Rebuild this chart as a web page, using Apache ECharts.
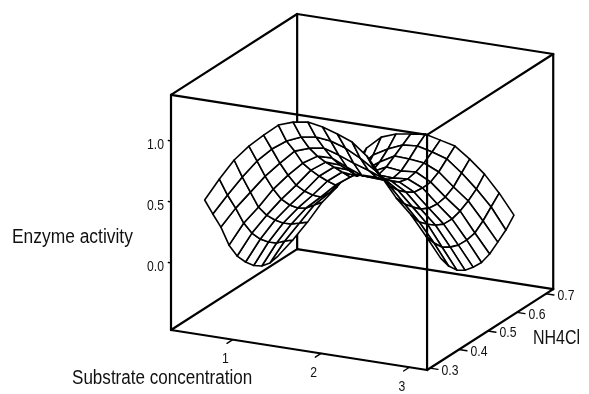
<!DOCTYPE html>
<html>
<head>
<meta charset="utf-8">
<style>
  html, body { margin: 0; padding: 0; background: #fff; }
  #chart { width: 589px; height: 394px; }
</style>
<script src="https://cdn.jsdelivr.net/npm/echarts@6/dist/echarts.min.js"></script>
</head>
<body>
<div id="chart"></div>
<script>
  // grid of the surface
  var substrate = [0.32, 0.487, 0.654, 0.821, 0.988, 1.155, 1.322, 1.489, 1.656, 1.823, 1.99, 2.157, 2.324, 2.491, 2.658, 2.825, 2.992];
  var nh4cl = [0.400, 0.428, 0.456, 0.484, 0.512, 0.541, 0.569, 0.597, 0.625, 0.653];
  // enzyme activity, one row per substrate value, one column per nh4cl value
  var activity = [
    [0.350, 0.193, 0.043, -0.148, -0.280, -0.373, -0.444, -0.491, -0.509, -0.495],
    [0.541, 0.367, 0.217, 0.052, -0.073, -0.166, -0.233, -0.284, -0.310, -0.345],
    [0.716, 0.534, 0.367, 0.202, 0.093, 0.009, -0.058, -0.109, -0.143, -0.179],
    [0.849, 0.684, 0.517, 0.368, 0.243, 0.151, 0.084, 0.041, 0.023, 0.004],
    [0.958, 0.801, 0.643, 0.502, 0.377, 0.284, 0.209, 0.150, 0.140, 0.146],
    [1.059, 0.885, 0.760, 0.619, 0.519, 0.426, 0.343, 0.267, 0.266, 0.320],
    [1.102, 0.937, 0.803, 0.695, 0.603, 0.519, 0.435, 0.352, 0.383, 0.503],
    [1.121, 0.956, 0.822, 0.698, 0.598, 0.513, 0.421, 0.428, 0.508, 0.612],
    [1.099, 0.942, 0.784, 0.643, 0.543, 0.483, 0.473, 0.512, 0.576, 0.656],
    [1.061, 0.903, 0.737, 0.596, 0.537, 0.510, 0.533, 0.580, 0.628, 0.675],
    [1.014, 0.840, 0.698, 0.598, 0.531, 0.504, 0.519, 0.575, 0.639, 0.693],
    [0.918, 0.761, 0.652, 0.584, 0.534, 0.515, 0.530, 0.561, 0.608, 0.663],
    [0.765, 0.648, 0.572, 0.513, 0.470, 0.460, 0.466, 0.506, 0.570, 0.633],
    [0.611, 0.520, 0.452, 0.393, 0.358, 0.348, 0.362, 0.402, 0.474, 0.545],
    [0.491, 0.391, 0.331, 0.280, 0.246, 0.243, 0.266, 0.306, 0.361, 0.441],
    [0.338, 0.238, 0.161, 0.119, 0.093, 0.090, 0.105, 0.161, 0.233, 0.304],
    [0.176, 0.068, -0.008, -0.051, -0.069, -0.075, -0.048, 0.007, 0.063, 0.143]
  ];
  var substrateTicks = [1, 2, 3];
  var nh4clTicks = [0.3, 0.4, 0.5, 0.6, 0.7];
  var activityTicks = [0.0, 0.5, 1.0];

  // box limits
  var sMin = 0.30, sMax = 3.20;
  var nMin = 0.29, nMax = 0.725;
  var zMin = -0.55, zMax = 1.377;

  // parallel projection of a data point on the hidden 2d axes
  function project(s, n, z) {
    return [
      171 + (s - sMin) * 88.3 + (n - nMin) * 290,
      330 + (s - sMin) * 13.8 - (n - nMin) * 186 - (z - zMin) * 122
    ];
  }

  // far cells first, so the near ones cover them
  var cells = [];
  for (var j = nh4cl.length - 2; j >= 0; j--) {
    for (var i = 0; i < substrate.length - 1; i++) {
      cells.push([i, j]);
    }
  }

  var edgesBehind = [
    [sMin, nMax, zMin, sMin, nMax, zMax],
    [sMin, nMin, zMin, sMin, nMax, zMin],
    [sMin, nMax, zMin, sMax, nMax, zMin],
    [sMin, nMin, zMin, sMin, nMin, zMax],
    [sMax, nMax, zMin, sMax, nMax, zMax],
    [sMax, nMin, zMin, sMax, nMax, zMin],
    [sMin, nMin, zMin, sMax, nMin, zMin],
    [sMin, nMin, zMax, sMin, nMax, zMax],
    [sMin, nMax, zMax, sMax, nMax, zMax],
    [sMax, nMax, zMax, sMax, nMin, zMax]
  ];
  var edgesInFront = [
    [sMax, nMin, zMin, sMax, nMin, zMax],
    [sMin, nMin, zMax, sMax, nMin, zMax]
  ];

  // tick marks
  var tickSegs = [];
  substrateTicks.forEach(function (v) { tickSegs.push([v, nMin, zMin, v, nMin - 0.02, zMin]); });
  nh4clTicks.forEach(function (v) { tickSegs.push([sMax, v, zMin, sMax + 0.09, v, zMin]); });
  activityTicks.forEach(function (v) { tickSegs.push([sMin, nMin, v, sMin - 0.03, nMin, v]); });

  function renderSeg(width) {
    return function (params, api) {
      var a = project(api.value(0), api.value(1), api.value(2));
      var b = project(api.value(3), api.value(4), api.value(5));
      var p = api.coord(a), q = api.coord(b);
      return {
        type: 'line',
        shape: { x1: p[0], y1: p[1], x2: q[0], y2: q[1] },
        style: { stroke: '#000', lineWidth: width, lineCap: 'round' }
      };
    };
  }

  function renderCell(params, api) {
    var i = api.value(0), j = api.value(1);
    var corners = [[i, j], [i + 1, j], [i + 1, j + 1], [i, j + 1]];
    var points = corners.map(function (c) {
      return api.coord(project(substrate[c[0]], nh4cl[c[1]], activity[c[0]][c[1]]));
    });
    return {
      type: 'polygon',
      shape: { points: points },
      style: { fill: '#fff', stroke: '#000', lineWidth: 1.6, lineJoin: 'round' }
    };
  }

  // labels next to the ticks, squeezed a bit like in the original plot
  function renderLabel(pointOf, dx, dy, align, digits) {
    return function (params, api) {
      var v = api.value(0);
      var p = api.coord(pointOf(v));
      return {
        type: 'text',
        x: p[0] + dx,
        y: p[1] + dy,
        scaleX: 0.87,
        style: {
          text: digits ? v.toFixed(digits) : String(v),
          fontFamily: 'Liberation Sans',
          fontSize: 14,
          fill: '#111',
          align: align,
          verticalAlign: 'middle'
        }
      };
    };
  }

  function segSeries(data, width) {
    return { type: 'custom', coordinateSystem: 'cartesian2d', clip: false, silent: true, data: data, renderItem: renderSeg(width) };
  }
  function labelSeries(values, pointOf, dx, dy, align, digits) {
    return {
      type: 'custom', coordinateSystem: 'cartesian2d', clip: false, silent: true,
      data: values.map(function (v) { return [v]; }),
      encode: { x: 0 },
      renderItem: renderLabel(pointOf, dx, dy, align, digits)
    };
  }
  function axisTitle(text, x, y, squeeze) {
    return {
      type: 'text', x: x, y: y, scaleX: squeeze, silent: true,
      style: { text: text, fontFamily: 'Liberation Sans', fontSize: 20, fill: '#111', verticalAlign: 'middle' }
    };
  }

  var myChart = echarts.init(document.getElementById('chart'), null, { renderer: 'canvas' });
  myChart.setOption({
    animation: false,
    backgroundColor: '#fff',
    tooltip: { show: false },
    grid: { left: 0, right: 0, top: 0, bottom: 0 },
    xAxis: { type: 'value', min: 0, max: 589, show: false },
    yAxis: { type: 'value', min: 0, max: 394, inverse: true, show: false },
    graphic: [
      axisTitle('Enzyme activity', 12, 237, 0.87),
      axisTitle('Substrate concentration', 72, 378, 0.853),
      axisTitle('NH4Cl', 533, 338, 0.8)
    ],
    series: [
      segSeries(edgesBehind, 2.2),
      segSeries(tickSegs, 1.4),
      {
        type: 'custom', coordinateSystem: 'cartesian2d', clip: false, silent: true,
        data: cells,
        renderItem: renderCell
      },
      segSeries(edgesInFront, 2.2),
      labelSeries(activityTicks, function (v) { return project(sMin, nMin, v); }, -24, 4.7, 'left', 1),
      labelSeries(substrateTicks, function (v) { return project(v, nMin, zMin); }, -7.5, 19.5, 'center', 0),
      labelSeries(nh4clTicks, function (v) { return project(sMax, v, zMin); }, 11.5, 2.5, 'left', 1)
    ]
  });
</script>
</body>
</html>
